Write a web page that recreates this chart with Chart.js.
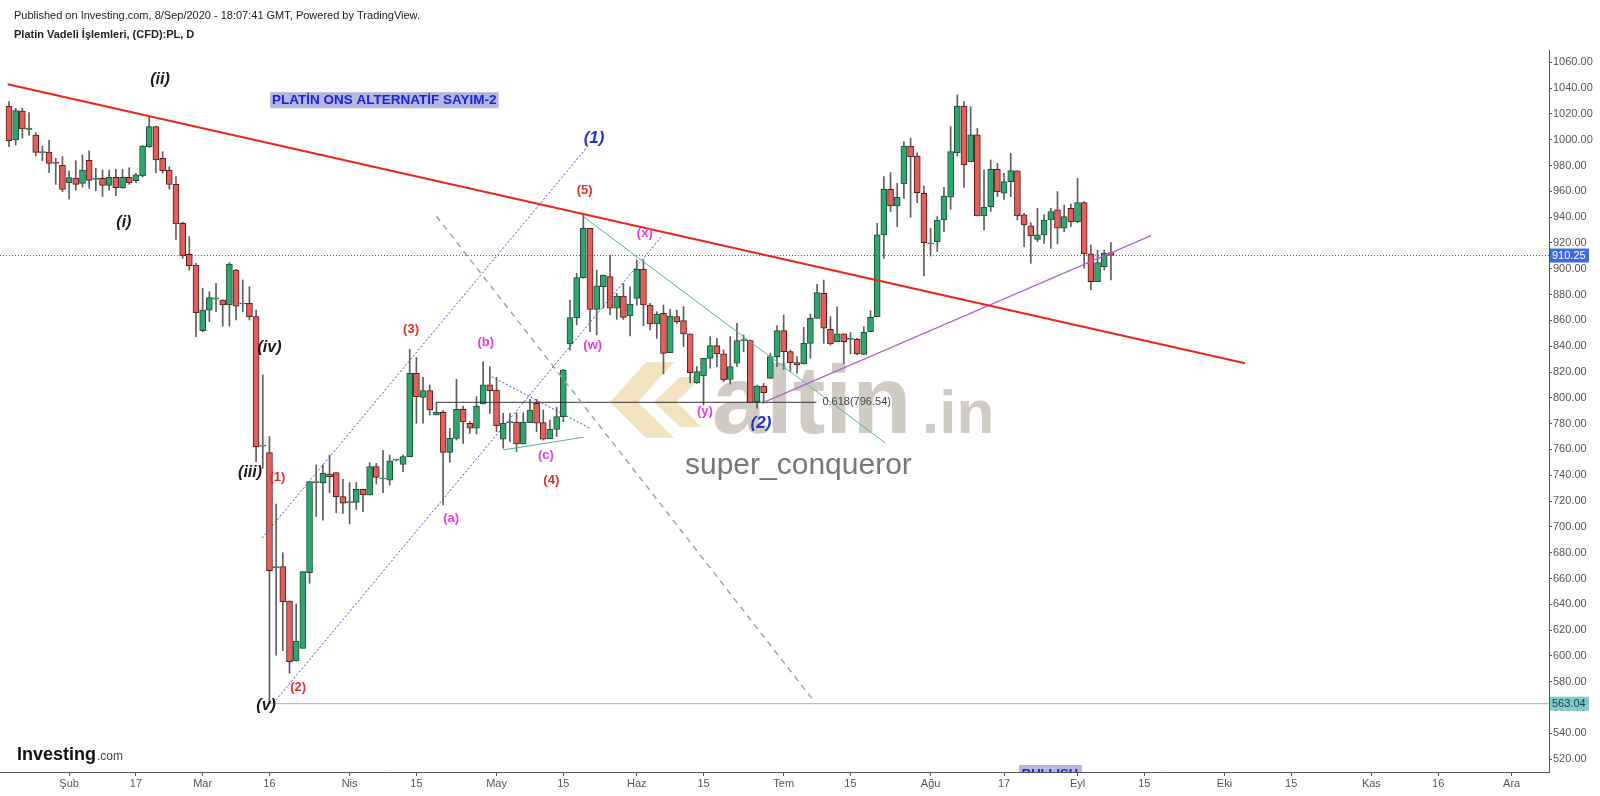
<!DOCTYPE html>
<html>
<head>
<meta charset="utf-8">
<title>Platin Vadeli İşlemleri, (CFD):PL, D</title>
<script src="https://cdn.jsdelivr.net/npm/chart.js@4.4.1/dist/chart.umd.min.js"></script>
<style>
  html, body { margin: 0; padding: 0; background: #fff; }
  canvas { display: block; }
</style>
</head>
<body>
<canvas id="priceChart" width="1600" height="796"></canvas>
<script>
const FONT = 'Arial, "Liberation Sans", sans-serif';
const UP = '#2fa56f', UP_EDGE = '#1f4f36';
const DOWN = '#e2605b', DOWN_EDGE = '#5b1a13';
const WICK = '#5e5e5e';

// daily candles, day 0 = 3 Şubat 2020 (trading-day index)
const firstDay = -9;
const opens = [
  1026.1, 999.8, 1022.2, 1008, 1003.6, 990, 990.5, 982, 980.1, 966.7,
  970.3, 966.2, 984, 969.3, 970, 964.6, 970.8, 962.8, 970.8, 968.3,
  971.9, 994.6, 1010.1, 985.6, 976.5, 965.4, 935.2, 911.2, 902.9, 852,
  868, 876.5, 875.8, 871.9, 899, 872.7, 873.2, 862.9, 763, 757.5,
  668.4, 669.2, 642.6, 596.1, 605.9, 664.5, 734.3, 734.3, 741, 742,
  723.4, 718.8, 719, 729.1, 724.7, 746.7, 737.1, 736.3, 751.8, 748.5,
  754.4, 819, 800.4, 805.6, 786.7, 788.8, 757.8, 768.6, 791.1, 780.3,
  776.4, 795.2, 810, 806.1, 767.9, 780.8, 781.3, 764.2, 780.8, 795.7,
  780.8, 768.4, 775.6, 785.4, 841.7, 862.1, 893.1, 931.4, 868.6, 886.2,
  893.9, 869.4, 878.9, 863.4, 877.1, 899.6, 871.9, 857.2, 865.5, 835,
  862.9, 859.8, 849.5, 811.8, 816.9, 830.6, 840.4, 834, 814.2, 826.8,
  844.3, 844.3, 797, 809.2, 815.1, 831.9, 852.1, 835.8, 827.3, 826.2,
  842.2, 861.6, 881, 853.1, 843.5, 849.5, 845.3, 845.3, 833.7, 851.3,
  862.9, 926.2, 961.6, 948.6, 965.7, 995.1, 987.4, 958.5, 919.2, 921,
  937.8, 955.4, 990, 1026.1, 983, 1003.7, 941, 948.1, 977.1, 958.5,
  967.5, 975.8, 941.7, 933.2, 922.8, 926.2, 937.8, 945.6, 931.4, 946.9,
  936.5, 951.2, 911.5, 890, 901.6, 912.5
];
const highs = [
  1029.5, 1024.3, 1024.3, 1021, 1005.5, 995.1, 999.8, 985.6, 986.9, 975.8,
  983.7, 988.2, 991.3, 977.8, 976.5, 976.5, 977, 977, 978.3, 974,
  995.6, 1018.4, 1010.5, 990.7, 979.1, 971.4, 936.2, 924.9, 904.2, 884.8,
  882.2, 888.7, 876, 904.7, 899.6, 891.3, 886.1, 868, 817.7, 770,
  717.7, 680, 642.6, 640.3, 665.3, 735.1, 748, 748, 755.7, 742,
  736.9, 734.3, 734.3, 729.1, 749.8, 749.3, 759.1, 755.7, 752.4, 755.7,
  837.6, 831.4, 815.9, 810, 796.5, 790.1, 776.4, 814.4, 793.7, 781.6,
  800.9, 828, 824.2, 815.9, 788, 788, 788.5, 788.5, 798.8, 798.8,
  790.6, 782.8, 792.7, 822.1, 875.8, 896.5, 943, 931.4, 899, 895.2,
  910.7, 881, 888.7, 886.1, 906.8, 906.8, 873.2, 866.8, 871.9, 868.6,
  868, 870.6, 849.5, 824.2, 830.6, 847.4, 846.1, 837.1, 847.4, 857.7,
  848.7, 844.8, 809.9, 811.2, 834.5, 855.7, 864.2, 837.1, 831.9, 854.6,
  865, 888.2, 891.3, 862.9, 870.6, 849.5, 850.5, 846.1, 855.2, 867.5,
  935.2, 971.4, 974.5, 966.2, 998.5, 1001.1, 990, 964.1, 931.4, 940.4,
  963.1, 1010.1, 1034.7, 1029.5, 1025.6, 1008.8, 976.6, 984.3, 981.7, 974,
  989.5, 976, 943, 935.7, 946.9, 941.7, 946.9, 959.8, 949.4, 950.2,
  970.1, 952, 918.4, 914.5, 914.5, 920.2
];
const lows = [
  994.6, 995.9, 1001.1, 1003.6, 987.4, 983.7, 974.5, 965.4, 959.7, 954,
  961, 963.1, 962.3, 960.5, 955.9, 961, 956.6, 962.3, 965.4, 966.7,
  971, 994.1, 974.5, 974, 961.8, 922.8, 908, 899, 847.4, 851.2,
  859, 866.7, 855.6, 855.6, 860.3, 866.7, 860.3, 750.5, 745.4, 563.04,
  600.7, 604.1, 586.5, 596.1, 605.9, 656.3, 708, 705.3, 726.5, 711,
  710.5, 702.3, 713.6, 711.8, 724.7, 733.2, 726.5, 732.5, 751, 742.8,
  754.4, 780.3, 780.3, 786.7, 786.7, 717, 750, 767.3, 764.7, 772.5,
  772, 795.2, 788, 773.8, 760.9, 766, 758.3, 764.2, 780.8, 773.8,
  767.3, 768.4, 770, 781.6, 837, 856.5, 892.6, 851.3, 848.7, 869.4,
  864.2, 860.8, 860.8, 847.9, 871.9, 855.7, 852.6, 846.1, 818.5, 835,
  857.7, 839.7, 811.8, 811.2, 794.5, 822.9, 824.2, 812.5, 810.7, 824.2,
  835.8, 796.3, 791.9, 795.8, 815.1, 824.2, 822, 820.3, 819, 826.2,
  830.6, 861.6, 842.2, 841, 843.5, 826.7, 834, 833.2, 833.7, 851.3,
  862.9, 908.1, 944.3, 932.6, 954.6, 939.9, 951.2, 894.4, 909.9, 913.3,
  928.8, 946.1, 987.4, 963.1, 983, 941, 930.1, 944.3, 955.9, 953.8,
  955.9, 937.8, 917.1, 904.2, 921, 919.7, 915.8, 919.2, 928.8, 932.6,
  935.7, 900.4, 883.6, 890, 899, 891.3
];
const closes = [
  999.2, 1022.5, 1008.3, 1009, 990.2, 990.5, 981.7, 981.7, 961.5, 970.6,
  965.4, 976.5, 968.5, 969.6, 964.6, 970.8, 962.8, 970.8, 966.7, 972.7,
  995.1, 1010.1, 984.3, 976, 965.4, 934.7, 910.1, 902.4, 866, 868,
  877.6, 877.5, 871.9, 903.7, 871.1, 872.9, 862.9, 762.2, 762.6, 666.1,
  668.8, 642, 595.6, 611.6, 665.3, 735.1, 734.8, 741.5, 738.9, 723.4,
  718.3, 719.2, 729.1, 724.7, 746.7, 738.4, 737.5, 751.1, 752, 754.4,
  819, 800.9, 805.6, 790.6, 788.8, 757.8, 768.6, 791.1, 781.3, 776.4,
  793.7, 810, 805.6, 778.4, 780.3, 781.2, 764.2, 781.3, 790.6, 780.3,
  767.9, 775.6, 785.4, 821.6, 862.1, 893.1, 931.4, 868.6, 886.7, 895.2,
  869.4, 878.9, 862.4, 872.7, 899.6, 871.9, 857.2, 864.9, 834.5, 863.4,
  859, 849.5, 819.5, 820.3, 830.6, 840.4, 834, 813.8, 824.2, 844.3,
  844.6, 796.3, 809.2, 804, 831.9, 852.1, 835.8, 827.3, 825.5, 842.2,
  861.6, 881.5, 853.9, 841.7, 849.5, 843.5, 845.6, 834, 850.7, 862.4,
  926.2, 961.6, 948.6, 955.4, 995.1, 986.9, 959, 920.2, 919.6, 937.8,
  956.4, 990.8, 1026.1, 980.4, 1003.7, 941, 947.6, 977.1, 959.8, 967.5,
  976, 941, 933.9, 925.4, 926.2, 937.8, 944.3, 931.4, 940.4, 936.5,
  951.2, 911.5, 890, 904.7, 912, 910.25
];

const tickDays = [0, 10, 20, 30, 42, 52, 64, 74, 85, 95, 107, 117, 129, 140, 151, 161, 173, 183, 195, 205, 216];
const tickNames = ['Şub', '17', 'Mar', '16', 'Nis', '15', 'May', '15', 'Haz', '15', 'Tem', '15', 'Ağu', '17', 'Eyl', '15', 'Eki', '15', 'Kas', '16', 'Ara'];
const priceTicks = [1060, 1040, 1020, 1000, 980, 960, 940, 920, 900, 880, 860, 840, 820, 800, 780, 760, 740, 720, 700, 680, 660, 640, 620, 600, 580, 560, 540, 520];

const lastPrice = 910.25;
const lowPrice = 563.04;
const fibPrice = 796.54;

// drawings: [day, price] end points
const redTrend = [[-9.2, 1043.0], [176.1, 826.8]];
const channelUpper = [[28.9, 691.4], [77.8, 995.7]];
const channelLower = [[30.6, 563.5], [88.9, 926.2]];
const greyDashed = [[55.0, 940.7], [111.4, 565.9]];
const tealDown = [[77.0, 940.4], [122.2, 765.1]];
const purpleUp = [[104.0, 796.5], [162.0, 925.7]];
const triUpper = [[63.3, 816.4], [78.0, 776.4]];
const triLower = [[65.0, 759.6], [77.0, 769.5]];
const fibLine = [[55.0, fibPrice], [111.9, fibPrice]];
const lowLine = [[30.0, lowPrice], [221.6, lowPrice]];
const lastLine = [[-10.35, lastPrice], [221.6, lastPrice]];

// wave count labels
const noteTexts = ['(ii)', '(i)', '(iv)', '(iii)', '(v)', '(1)', '(2)', '(3)', '(4)', '(5)', '(a)', '(b)', '(c)', '(w)', '(x)', '(y)', '(1)', '(2)'];
const noteDays = [13.6, 8.2, 30.0, 27.1, 29.5, 31.2, 34.3, 51.2, 72.2, 77.2, 57.2, 62.4, 71.4, 78.4, 86.2, 95.2, 78.6, 103.6];
const notePrices = [1046.6, 936.0, 838.6, 742.2, 561.3, 738.2, 575.4, 852.9, 735.9, 960.4, 706.6, 842.6, 755.7, 840.3, 927.2, 789.7, 1000.7, 780.2];
const noteKinds = ['minor', 'minor', 'minor', 'minor', 'minor', 'wave', 'wave', 'wave', 'wave', 'wave', 'sub', 'sub', 'sub', 'sub', 'sub', 'sub', 'major', 'major'];

const noteStyle = {
  minor: { font: 'italic bold 16px ' + FONT, color: '#1a1a1a' },
  wave: { font: 'bold 13px ' + FONT, color: '#e0312b' },
  sub: { font: 'bold 13px ' + FONT, color: '#e23ede' },
  major: { font: 'italic bold 17px ' + FONT, color: '#2433cc' },
};

const days = opens.map((_, i) => firstDay + i);

function seg(points, color, width, dash) {
  return {
    type: 'line',
    data: points.map(p => ({ x: p[0], y: p[1] })),
    borderColor: color,
    borderWidth: width,
    borderDash: dash || [],
    pointRadius: 0,
    fill: false,
    order: 0,
  };
}

const decor = {
  id: 'decor',
  beforeDatasetsDraw(chart) {
    const ctx = chart.ctx, a = chart.chartArea;
    ctx.save();
    ctx.beginPath();
    ctx.rect(a.left, a.top, a.right - a.left, a.bottom - a.top);
    ctx.clip();
    // altin.in watermark
    ctx.fillStyle = 'rgba(226,190,115,0.45)';
    [[[610, 402], [646, 362], [674, 362], [638, 402], [674, 438], [646, 438]],
     [[654, 402], [680, 377], [702, 377], [676, 402], [702, 427], [680, 427]]].forEach(poly => {
      ctx.beginPath();
      poly.forEach((p, i) => i ? ctx.lineTo(p[0], p[1]) : ctx.moveTo(p[0], p[1]));
      ctx.closePath();
      ctx.fill();
    });
    ctx.fillStyle = 'rgba(150,140,122,0.45)';
    ctx.textBaseline = 'alphabetic';
    ctx.textAlign = 'left';
    ctx.font = 'bold 97px ' + FONT;
    ctx.fillText('altin', 712, 433);
    ctx.font = 'bold 62px ' + FONT;
    ctx.fillText('.in', 922, 433);
    ctx.fillStyle = '#777';
    ctx.font = '30px ' + FONT;
    ctx.textBaseline = 'middle';
    ctx.fillText('super_conqueror', 685, 466);
    ctx.restore();
  },
  afterDatasetsDraw(chart) {
    const ctx = chart.ctx, a = chart.chartArea;
    const xs = chart.scales.x, ys = chart.scales.y;
    ctx.save();
    ctx.textAlign = 'center';
    ctx.textBaseline = 'middle';
    noteTexts.forEach((t, i) => {
      const st = noteStyle[noteKinds[i]];
      ctx.font = st.font;
      ctx.fillStyle = st.color;
      ctx.fillText(t, xs.getPixelForValue(noteDays[i]), ys.getPixelForValue(notePrices[i]));
    });
    // title note
    const title = 'PLATİN ONS ALTERNATİF SAYIM-2';
    ctx.font = 'bold 13.5px ' + FONT;
    const tw = ctx.measureText(title).width;
    const tx = xs.getPixelForValue(47.2), ty = ys.getPixelForValue(1030.6);
    ctx.fillStyle = '#b3b5e2';
    ctx.fillRect(tx - tw / 2 - 2, ty - 8, tw + 4, 16);
    ctx.fillStyle = '#1a22d8';
    ctx.fillText(title, tx, ty + 0.5);
    // fib label
    ctx.font = '11px ' + FONT;
    ctx.fillStyle = '#444';
    ctx.textAlign = 'left';
    ctx.fillText('0.618(796.54)', xs.getPixelForValue(112.8), ys.getPixelForValue(fibPrice));
    // BULLISH tag, mostly hidden below the time axis
    ctx.beginPath();
    ctx.rect(a.left, a.top, a.right - a.left, a.bottom - a.top);
    ctx.clip();
    ctx.fillStyle = '#b3b5e2';
    ctx.fillRect(1019, 765, 63, 10);
    ctx.fillStyle = '#1a22d8';
    ctx.font = 'bold 13px ' + FONT;
    ctx.textAlign = 'center';
    ctx.fillText('BULLISH', 1050, 774);
    ctx.restore();
  },
  afterDraw(chart) {
    const ctx = chart.ctx, ys = chart.scales.y, a = chart.chartArea;
    ctx.save();
    // price tags on the axis
    ctx.font = '11px ' + FONT;
    ctx.textBaseline = 'middle';
    ctx.textAlign = 'left';
    let y = ys.getPixelForValue(lastPrice);
    ctx.fillStyle = '#3f6be0';
    ctx.fillRect(a.right + 1, y - 7, 39, 14);
    ctx.fillStyle = '#fff';
    ctx.fillText(lastPrice.toFixed(2), a.right + 3, y);
    y = ys.getPixelForValue(lowPrice);
    ctx.fillStyle = '#84c9d2';
    ctx.fillRect(a.right + 1, y - 7, 39, 14);
    ctx.fillStyle = '#17414a';
    ctx.fillText(lowPrice.toFixed(2), a.right + 3, y);
    // header
    ctx.fillStyle = '#222';
    ctx.textBaseline = 'alphabetic';
    ctx.font = '11px ' + FONT;
    ctx.fillText('Published on Investing.com, 8/Sep/2020 - 18:07:41 GMT, Powered by TradingView.', 14, 19);
    ctx.font = 'bold 11px ' + FONT;
    ctx.fillText('Platin Vadeli İşlemleri, (CFD):PL, D', 14, 38);
    // logo
    ctx.fillStyle = '#111';
    ctx.font = 'bold 18px ' + FONT;
    ctx.fillText('Investing', 17, 760);
    ctx.fillStyle = '#444';
    ctx.font = '12px ' + FONT;
    ctx.fillText('.com', 97, 760);
    ctx.restore();
  },
};

Chart.defaults.font.family = FONT;

new Chart(document.getElementById('priceChart'), {
  type: 'bar',
  data: {
    datasets: [
      {
        label: 'wick',
        data: days.map((d, i) => ({ x: d, y: [lows[i], highs[i]] })),
        backgroundColor: WICK,
        borderWidth: 0,
        barThickness: 1,
        grouped: false,
        order: 3,
      },
      {
        label: 'body',
        data: days.map((d, i) => ({ x: d, y: [opens[i], closes[i]] })),
        backgroundColor: days.map((d, i) => closes[i] >= opens[i] ? UP : DOWN),
        borderColor: days.map((d, i) => closes[i] >= opens[i] ? UP_EDGE : DOWN_EDGE),
        borderWidth: 1,
        borderSkipped: false,
        barThickness: 6,
        minBarLength: 1,
        grouped: false,
        order: 2,
      },
      seg(lastLine, '#3451b2', 1, [1, 2]),
      seg(lowLine, '#7ec4cc', 1),
      seg(redTrend, '#e8271e', 2),
      seg(channelUpper, '#4050c0', 1, [2, 2]),
      seg(channelLower, '#4050c0', 1, [2, 2]),
      seg(greyDashed, '#a3a3a3', 1.5, [6, 5]),
      seg(tealDown, '#56b4ac', 1),
      seg(purpleUp, '#b45fd6', 1.2),
      seg(triUpper, '#4050c0', 1, [2, 2]),
      seg(triLower, '#4fb3a9', 1),
      seg(fibLine, '#333', 1),
    ],
  },
  options: {
    responsive: false,
    animation: false,
    layout: { padding: { top: 50, left: 0, right: 0, bottom: 0 } },
    plugins: { legend: { display: false }, tooltip: { enabled: false } },
    scales: {
      x: {
        type: 'linear',
        min: -10.35,
        max: 221.6,
        offset: false,
        grid: { drawOnChartArea: false, offset: false, tickLength: 4, color: '#555' },
        border: { color: '#555' },
        ticks: {
          autoSkip: false, maxRotation: 0, color: '#555', padding: 1,
          font: { size: 11 },
          callback: (v, i) => tickNames[i],
        },
        afterBuildTicks: s => { s.ticks = tickDays.map(v => ({ value: v })); },
        afterFit: s => { s.height = 24; },
      },
      y: {
        position: 'right',
        min: 510.1,
        max: 1069.5,
        grid: { drawOnChartArea: false, tickLength: 3, color: '#555' },
        border: { color: '#555' },
        ticks: { color: '#555', padding: 1, font: { size: 11 }, callback: v => v.toFixed(2) },
        afterBuildTicks: s => { s.ticks = priceTicks.map(v => ({ value: v })); },
        afterFit: s => { s.width = 51; },
      },
    },
  },
  plugins: [decor],
});
</script>
</body>
</html>
